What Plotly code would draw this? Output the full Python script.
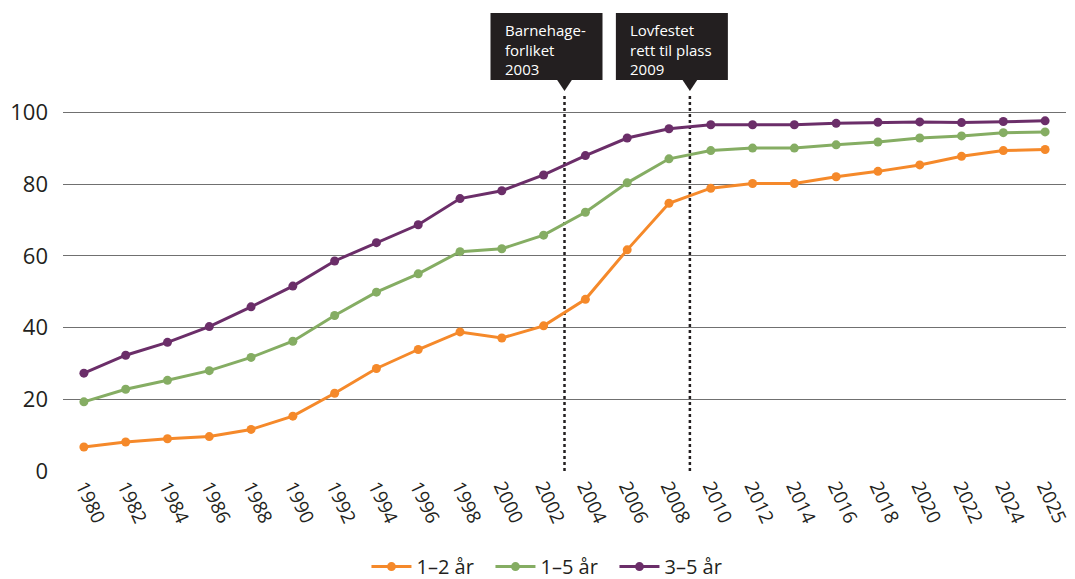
import plotly.graph_objects as go

years = ["1980", "1982", "1984", "1986", "1988", "1990", "1992", "1994", "1996", "1998",
         "2000", "2002", "2004", "2006", "2008", "2010", "2012", "2014", "2016", "2018",
         "2020", "2022", "2024", "2025"]

age_1_2 = [6.7, 8.1, 9.0, 9.6, 11.6, 15.3, 21.7, 28.6, 33.9, 38.8, 37.1, 40.5,
           47.9, 61.7, 74.7, 78.9, 80.2, 80.2, 82.1, 83.6, 85.4, 87.8, 89.4, 89.7]
age_1_5 = [19.3, 22.8, 25.3, 28.0, 31.7, 36.2, 43.4, 49.9, 55.0, 61.2, 62.0, 65.8,
           72.2, 80.4, 87.1, 89.4, 90.1, 90.1, 91.0, 91.8, 92.9, 93.5, 94.4, 94.6]
age_3_5 = [27.3, 32.3, 35.9, 40.3, 45.8, 51.6, 58.6, 63.7, 68.7, 76.0, 78.2, 82.6,
           88.0, 92.9, 95.5, 96.6, 96.6, 96.6, 97.0, 97.3, 97.4, 97.2, 97.5, 97.7]

series_names = ["1–2 år", "1–5 år", "3–5 år"]
series_colors = ["#F5892A", "#85AD63", "#6B2E69"]

event_years = [2003, 2009]
event_labels = ["Barnehage-<br>forliket<br>2003", "Lovfestet<br>rett til plass<br>2009"]

y_ticks = [0, 20, 40, 60, 80, 100]

FONT = "Open Sans"
TXT = "#231F20"

fig = go.Figure()
for name, vals, col in zip(series_names, [age_1_2, age_1_5, age_3_5], series_colors):
    fig.add_trace(go.Scatter(
        x=list(range(len(years))), y=vals, name=name, mode="lines+markers",
        line=dict(color=col, width=3),
        marker=dict(color=col, size=9),
    ))

shapes = []
annotations = []
for yr, lab in zip(event_years, event_labels):
    idx = (yr - 1980) / 2.0
    shapes.append(dict(type="line", xref="x", yref="paper", ysizemode="pixel", yanchor=0,
                       x0=idx, x1=idx, y0=0, y1=376, layer="below",
                       line=dict(color=TXT, width=2.5, dash="dot")))
    shapes.append(dict(type="rect", xref="x", xsizemode="pixel", xanchor=idx,
                       yref="paper", ysizemode="pixel", yanchor=1,
                       x0=-74, x1=38, y0=29, y1=96,
                       fillcolor=TXT, line=dict(width=0)))
    shapes.append(dict(type="path", xref="x", xsizemode="pixel", xanchor=idx,
                       yref="paper", ysizemode="pixel", yanchor=1,
                       path="M -8,30 L 8,30 L 0,18 Z",
                       fillcolor=TXT, line=dict(width=0)))
    annotations.append(dict(xref="x", yref="paper", x=idx, y=1, xanchor="left", yanchor="top",
                            xshift=-62, yshift=91, text=lab, showarrow=False, align="left",
                            font=dict(family=FONT, size=15, color="white")))

fig.update_layout(
    width=1075, height=579,
    margin=dict(l=63, r=9, t=109, b=108, autoexpand=False),
    paper_bgcolor="white", plot_bgcolor="white",
    font=dict(family=FONT, color=TXT),
    showlegend=True,
    legend=dict(orientation="h", x=0.488, xanchor="center", y=-0.264, yanchor="middle",
                font=dict(family=FONT, size=20, color=TXT), traceorder="normal",
                itemwidth=40, entrywidth=69, entrywidthmode="pixels"),
    shapes=shapes,
    annotations=annotations,
    xaxis=dict(
        tickmode="array", tickvals=list(range(len(years))), ticktext=years,
        range=[-0.5, len(years) - 0.5], showgrid=False, zeroline=False, showline=False,
        tickangle=65, tickfont=dict(family=FONT, size=19, color=TXT), ticks="",
        automargin=False, ticklabeloverflow="allow",
    ),
    yaxis=dict(
        range=[0, 101], tickvals=y_ticks, showgrid=True, gridcolor="#707070", gridwidth=1,
        zeroline=False, showline=False, ticks="", ticklabelstandoff=14,
        tickfont=dict(family=FONT, size=22, color=TXT), automargin=False,
    ),
)

fig.write_html("out.html", config={"displayModeBar": False},
               post_script="document.body.style.margin='0';document.body.style.overflow='hidden';")
